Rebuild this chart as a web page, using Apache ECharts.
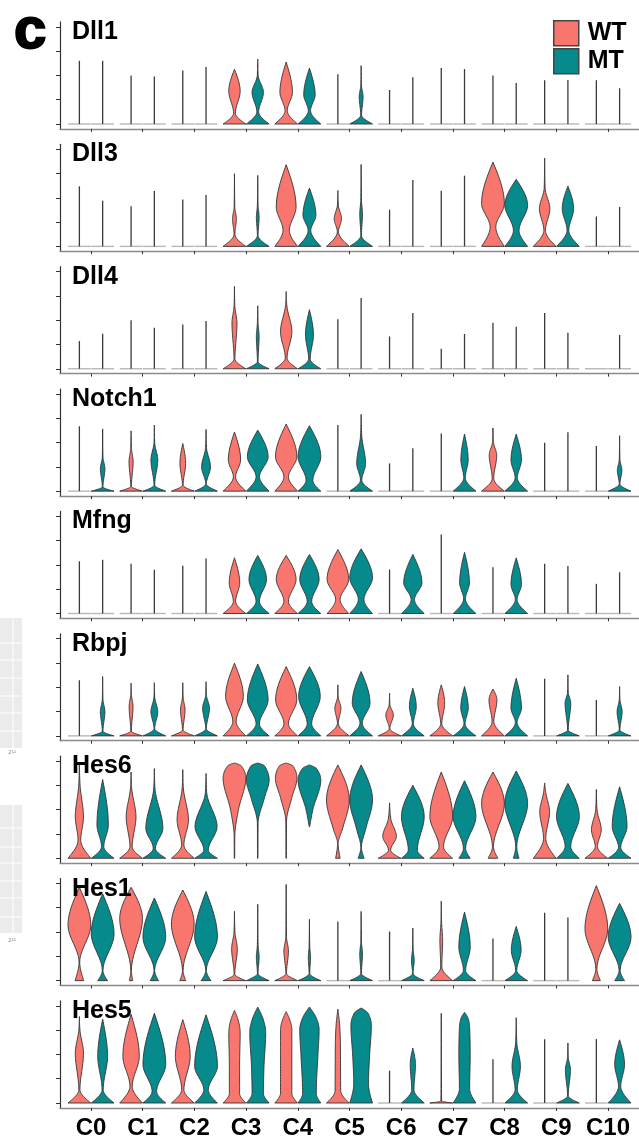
<!DOCTYPE html>
<html>
<head>
<meta charset="utf-8">
<script src="https://cdn.jsdelivr.net/npm/echarts@6.0.0/dist/echarts.min.js"></script>
<style>
  html, body { margin: 0; padding: 0; background: #ffffff; }
  #chart { width: 639px; height: 1142px; }
</style>
</head>
<body>
<div id="chart"></div>
<script>
// Stacked violin plots: expression of Notch-pathway genes per cluster, WT vs MT.

const clusters = ['C0', 'C1', 'C2', 'C3', 'C4', 'C5', 'C6', 'C7', 'C8', 'C9', 'C10'];
const genes = ['Dll1', 'Dll3', 'Dll4', 'Notch1', 'Mfng', 'Rbpj', 'Hes6', 'Hes1', 'Hes5'];
const groupNames = ['WT', 'MT'];
const groupColors = ['#F8766D', '#078A8C'];
const yTickValues = [0, 1, 2, 3, 4];
const xTickValues = [0, 1, 2, 3, 4, 5, 6, 7, 8, 9, 10];

// Each violin is either a single number (cells almost all at zero: a flat base
// with a thin whisker up to the maximum) or a flat list of [level, relWidth]
// knots from the bottom of the violin to its tip.
const dll1WT = [2.6, 2.0, 2.2,
  [0,1, 0.45,0.08, 1.35,0.5, 2.25,0],
  [0,1, 0.55,0.1, 1.3,0.55, 2.55,0],
  2.05, 1.4, 2.3, 2.0, 1.8, 1.8];
const dll1MT = [2.6, 1.95, 2.35,
  [0,1, 0.5,0.08, 1.3,0.5, 2.0,0.04, 2.67,0],
  [0,1, 0.55,0.1, 1.2,0.5, 2.3,0],
  [0,1, 0.37,0.04, 1.12,0.17, 1.6,0.03, 2.4,0],
  1.92, 2.26, 1.69, 1.81, 1.47];

const dll3WT = [2.47, 1.65, 1.93,
  [0,1, 0.5,0.04, 1.15,0.17, 1.6,0.03, 2.99,0],
  [0,1, 0.66,0.28, 1.62,0.87, 3.36,0],
  [0,1, 0.6,0.05, 1.14,0.32, 1.7,0.04, 2.3,0],
  1.51, 2.29,
  [0,1, 0.8,0.25, 1.76,1.0, 3.47,0],
  [0,1, 0.66,0.07, 1.55,0.46, 2.4,0.04, 3.63,0],
  1.23];
const dll3MT = [1.88, 2.28, 2.11,
  [0,1, 0.45,0.03, 1.2,0.12, 1.7,0.03, 2.92,0],
  [0,1, 0.66,0.12, 1.28,0.57, 2.4,0],
  [0,1, 0.45,0.03, 1.35,0.12, 1.9,0.03, 3.37,0],
  2.73, 2.91,
  [0,1, 0.66,0.25, 1.69,1.0, 2.76,0],
  [0,1, 0.66,0.08, 1.55,0.5, 2.48,0],
  1.62];

const dll4WT = [1.14, 2.0, 1.82,
  [0,1, 0.41,0.04, 1.88,0.22, 2.6,0.03, 3.39,0],
  [0,1, 0.45,0.08, 1.53,0.5, 2.6,0.06, 3.18,0],
  2.04, 1.33, 0.82, 1.89, 2.29, 0];
const dll4MT = [1.44, 1.69, 1.96,
  [0,1, 0.3,0.03, 1.33,0.12, 1.9,0.03, 2.59,0],
  [0,1, 0.4,0.07, 1.4,0.35, 2.43,0],
  2.91, 2.29, 1.43, 1.73, 1.48, 1.39];

const notch1WT = [2.67,
  [0,1, 0.2,0.03, 1.2,0.18, 1.8,0.03, 2.48,0],
  [0,1, 0.25,0.03, 1.14,0.25, 1.96,0],
  [0,1, 0.59,0.1, 1.28,0.54, 2.43,0],
  [0,1, 0.59,0.2, 1.41,0.94, 2.76,0],
  2.72, 1.14, 2.37,
  [0,1, 0.52,0.07, 1.48,0.33, 2.0,0.05, 2.6,0],
  1.99, 1.86];
const notch1MT = [
  [0,1, 0.18,0.03, 0.93,0.2, 1.4,0.03, 2.56,0],
  [0,1, 0.25,0.03, 1.28,0.3, 2.0,0.03, 2.72,0],
  [0,1, 0.3,0.03, 1.0,0.39, 1.8,0.04, 2.54,0],
  [0,1, 0.59,0.15, 1.41,0.91, 2.51,0],
  [0,1, 0.45,0.3, 1.41,1.0, 2.69,0],
  [0,1, 0.45,0.06, 1.14,0.39, 2.3,0.05, 3.16,0],
  1.76,
  [0,1, 0.55,0.07, 1.28,0.32, 2.35,0],
  [0,1, 0.55,0.1, 1.28,0.46, 2.35,0],
  2.42,
  [0,1, 0.3,0.03, 0.86,0.2, 1.3,0.03, 2.28,0]];

const mfngWT = [2.15, 2.05, 1.96,
  [0,1, 0.5,0.1, 1.26,0.46, 2.29,0],
  [0,1, 0.5,0.2, 1.4,0.87, 2.39,0],
  [0,0.95, 0.58,0.2, 1.4,0.95, 2.63,0],
  1.81, 3.25, 1.9, 2.05, 1.22];
const mfngMT = [2.21, 1.8, 2.26,
  [0,1, 0.5,0.15, 1.4,0.77, 2.39,0],
  [0,1, 0.5,0.2, 1.4,0.85, 2.43,0],
  [0,1, 0.58,0.25, 1.47,1.0, 2.66,0],
  [0,1, 0.58,0.15, 1.26,0.8, 2.43,0],
  [0,1, 0.6,0.08, 1.26,0.43, 2.52,0],
  [0,1, 0.58,0.08, 1.19,0.46, 2.29,0],
  1.95, 1.7];

const rbpjWT = [2.29,
  [0,1, 0.2,0.03, 1.2,0.17, 1.7,0.03, 2.17,0],
  [0,1, 0.25,0.03, 1.07,0.2, 1.6,0.03, 2.19,0],
  [0,1, 0.59,0.15, 1.62,0.78, 2.99,0],
  [0,1, 0.5,0.2, 1.48,0.93, 2.85,0],
  [0,1, 0.52,0.04, 1.14,0.27, 1.6,0.03, 2.1,0],
  [0,1, 0.3,0.03, 0.86,0.33, 1.3,0.03, 1.76,0],
  [0,1, 0.5,0.05, 1.35,0.3, 2.1,0],
  [0,1, 0.59,0.08, 1.48,0.35, 1.93,0],
  2.35, 1.48];
const rbpjMT = [
  [0,1, 0.2,0.03, 1.0,0.2, 1.5,0.03, 2.44,0],
  [0,1, 0.3,0.03, 1.0,0.3, 1.6,0.03, 2.19,0],
  [0,1, 0.3,0.03, 1.14,0.3, 1.7,0.03, 2.23,0],
  [0,1, 0.5,0.15, 1.48,0.91, 2.96,0],
  [0,1, 0.5,0.2, 1.62,0.95, 2.85,0],
  [0,1, 0.52,0.1, 1.35,0.78, 2.65,0],
  [0,1, 0.5,0.05, 1.2,0.3, 1.96,0],
  [0,1, 0.5,0.05, 1.14,0.33, 2.03,0],
  [0,1, 0.55,0.08, 1.14,0.46, 2.37,0],
  [0,1, 0.25,0.03, 1.35,0.25, 1.8,0.03, 2.51,0],
  [0,1, 0.25,0.03, 1.0,0.22, 1.5,0.03, 2.03,0]];

const hes6WT = [
  [0,1, 0.75,0.12, 1.7,0.36, 3.0,0.06, 3.93,0],
  [0,1, 0.48,0.1, 1.7,0.43, 2.9,0.05, 3.55,0],
  [0,1, 0.55,0.1, 1.58,0.5, 2.9,0.05, 3.65,0],
  [0,0.02, 0.9,0.03, 2.0,0.35, 3.3,1.0, 3.8,0.6, 3.92,0],
  [0,0.02, 1.5,0.03, 2.5,0.5, 3.3,0.95, 3.8,0.6, 3.92,0],
  [0,0.2, 0.6,0.03, 1.2,0.4, 2.4,1.0, 3.84,0],
  [0,1, 0.34,0.1, 0.9,0.6, 1.6,0.12, 2.28,0],
  [0,1, 0.48,0.2, 1.71,1.0, 3.55,0],
  [0,0.43, 0.48,0.05, 2.25,1.0, 3.55,0],
  [0,1, 0.82,0.1, 1.92,0.43, 2.7,0.1, 3.1,0],
  [0,1, 0.48,0.1, 1.17,0.43, 2.0,0.06, 2.83,0]];
const hes6MT = [
  [0,1, 0.48,0.1, 1.37,0.5, 3.24,0],
  [0,1, 0.41,0.1, 1.23,0.75, 2.9,0.05, 3.69,0],
  [0,1, 0.34,0.2, 1.3,0.97, 2.7,0.06, 3.49,0],
  [0,0.02, 1.43,0.03, 2.5,0.6, 3.22,1.0, 3.8,0.6, 3.92,0],
  [1.3,0.02, 2.0,0.3, 3.22,1.0, 3.7,0.6, 3.84,0],
  [0,0.27, 0.45,0.03, 1.2,0.4, 2.4,1.0, 3.84,0],
  [0,1, 0.34,0.4, 1.71,1.0, 3.0,0],
  [0,0.5, 0.41,0.1, 1.71,1.0, 3.19,0],
  [0,0.25, 0.48,0.05, 2.25,1.0, 3.59,0],
  [0,1, 0.48,0.25, 1.71,1.0, 3.08,0],
  [0,1, 0.45,0.1, 1.3,0.65, 2.94,0]];

const hes1WT = [
  [0,0.38, 0.77,0.03, 2.28,1.0, 3.84,0],
  [0,0.15, 0.42,0.03, 2.55,1.0, 3.84,0],
  [0,0.26, 0.42,0.03, 2.33,1.0, 3.73,0],
  [0,1, 0.27,0.03, 1.31,0.25, 2.0,0.04, 2.85,0],
  [0,1, 0.3,0.03, 1.23,0.2, 1.8,0.03, 3.96,0],
  2.43, 2.02,
  [0,1, 0.56,0.05, 1.66,0.12, 2.4,0.03, 3.27,0],
  1.73, 2.79,
  [0,0.35, 0.49,0.05, 2.13,1.0, 3.91,0]];
const hes1MT = [
  [0,0.43, 0.42,0.03, 1.92,1.0, 3.57,0],
  [0,0.36, 0.42,0.03, 1.79,1.0, 3.4,0],
  [0,0.43, 0.42,0.03, 1.79,1.0, 3.67,0],
  [0,1, 0.3,0.03, 0.97,0.12, 1.5,0.03, 3.14,0],
  [0,1, 0.3,0.03, 0.97,0.1, 1.4,0.03, 2.52,0],
  [0,1, 0.3,0.03, 1.1,0.12, 1.6,0.03, 2.85,0],
  [0,1, 0.3,0.03, 0.84,0.12, 1.3,0.03, 2.16,0],
  [0,1, 0.42,0.1, 1.38,0.5, 2.82,0],
  [0,1, 0.42,0.05, 1.25,0.43, 2.23,0],
  2.6,
  [0,0.43, 0.42,0.05, 1.79,1.0, 3.18,0]];

const hes5WT = [
  [0,1, 0.55,0.05, 2.05,0.36, 3.0,0.05, 3.56,0],
  [0,1, 0.69,0.1, 1.92,0.72, 3.65,0],
  [0,1, 0.55,0.1, 1.92,0.65, 3.43,0],
  [0,1, 0.4,0.45, 1.5,0.45, 2.9,0.5, 3.45,0.3, 3.81,0],
  [0,1, 0.4,0.5, 2.0,0.5, 3.0,0.5, 3.45,0.3, 3.76,0],
  [0,1, 0.5,0.25, 2.5,0.22, 3.4,0.12, 3.86,0],
  1.33,
  [0,1, 0.08,0.03, 3.69,0],
  1.8, 2.62, 2.63];
const hes5MT = [
  [0,1, 0.55,0.05, 1.92,0.43, 3.45,0],
  [0,1, 0.48,0.2, 1.58,1.0, 3.69,0],
  [0,1, 0.55,0.2, 1.51,1.0, 3.63,0],
  [0,1, 0.4,0.5, 1.5,0.55, 2.9,0.7, 3.55,0.4, 3.95,0],
  [0,1, 0.4,0.6, 2.0,0.75, 3.0,0.85, 3.6,0.5, 3.95,0],
  [0,1, 0.8,0.65, 2.0,0.75, 3.2,0.9, 3.7,0.6, 3.91,0],
  [0,1, 0.55,0.1, 1.58,0.23, 2.26,0],
  [0,1, 0.6,0.45, 2.0,0.5, 3.1,0.45, 3.5,0.3, 3.73,0],
  [0,1, 0.55,0.1, 1.51,0.37, 2.5,0.05, 3.51,0],
  [0,1, 0.3,0.03, 1.37,0.22, 1.9,0.03, 2.47,0],
  [0,1, 0.69,0.1, 1.58,0.43, 2.6,0]];

const violinsByGene = [
  [dll1WT, dll1MT], [dll3WT, dll3MT], [dll4WT, dll4MT],
  [notch1WT, notch1MT], [mfngWT, mfngMT], [rbpjWT, rbpjMT],
  [hes6WT, hes6MT], [hes1WT, hes1MT], [hes5WT, hes5MT]
];

// ---- layout ----
const FIRST_BASELINE = 124;
const PANEL_STEP = 122.375;
const PX_PER_UNIT = 24.3;
const Y_MIN = -0.2, Y_MAX = 4.2;
const X_MIN = -0.6, X_MAX = 10.6;
const PX_PER_CLUSTER = 52;
const GRID_LEFT = 60;
const DODGE = [-0.225, 0.225];
const HALF_WIDTH = 0.22;
const FONT = '"Liberation Sans", Arial, Helvetica, sans-serif';

// Monotone cubic (Fritsch–Carlson style) sampling of a knot profile.
function sampleProfile(knots) {
  const ys = [], ws = [];
  for (let i = 0; i < knots.length; i += 2) { ys.push(knots[i]); ws.push(knots[i + 1]); }
  const n = ys.length;
  const h = [], d = [];
  for (let i = 0; i < n - 1; i++) { h.push(ys[i + 1] - ys[i]); d.push((ws[i + 1] - ws[i]) / h[i]); }
  const m = new Array(n).fill(0);
  for (let i = 1; i < n - 1; i++) {
    const s0 = d[i - 1], s1 = d[i];
    const p = (s0 * h[i] + s1 * h[i - 1]) / (h[i - 1] + h[i]);
    m[i] = (Math.sign(s0) + Math.sign(s1)) * Math.min(Math.abs(s0), Math.abs(s1), 0.5 * Math.abs(p)) || 0;
  }
  if (n === 2) { m[0] = d[0]; m[1] = d[0]; }
  else {
    m[0] = (3 * d[0] - m[1]) / 2;
    m[n - 1] = (3 * d[n - 2] - m[n - 2]) / 2;
  }
  const out = [];
  const steps = 14;
  for (let i = 0; i < n - 1; i++) {
    for (let s = 0; s < steps; s++) {
      const t = s / steps, t2 = t * t, t3 = t2 * t;
      const w = (2 * t3 - 3 * t2 + 1) * ws[i] + (t3 - 2 * t2 + t) * h[i] * m[i]
              + (-2 * t3 + 3 * t2) * ws[i + 1] + (t3 - t2) * h[i] * m[i + 1];
      out.push([ys[i] + t * h[i], Math.max(0, w)]);
    }
  }
  out.push([ys[n - 1], ws[n - 1]]);
  return out;
}

function violinRenderer(shapes) {
  return function (params, api) {
    const spec = shapes[params.dataIndex];
    const xv = api.value(0);
    const base = api.coord([xv, 0]);
    const cx = base[0];
    const half = api.size([HALF_WIDTH, 0])[0];
    if (typeof spec === 'number') {
      const children = [{
        type: 'line',
        shape: { x1: cx - half, y1: base[1], x2: cx + half, y2: base[1] },
        style: { stroke: '#b8b8b8', lineWidth: 1.4 }
      }];
      if (spec > 0) {
        const tip = api.coord([xv, spec]);
        children.push({
          type: 'line',
          shape: { x1: cx, y1: base[1], x2: cx, y2: tip[1] },
          style: { stroke: '#3a3a3a', lineWidth: 1.3 }
        });
      }
      return { type: 'group', children };
    }
    const prof = sampleProfile(spec);
    const right = prof.map(([y, w]) => [cx + w * half, api.coord([xv, y])[1]]);
    const left = prof.slice().reverse().map(([y, w]) => [cx - w * half, api.coord([xv, y])[1]]);
    return {
      type: 'polygon',
      shape: { points: right.concat(left) },
      style: { fill: api.visual('color'), stroke: '#333333', lineWidth: 0.9, lineJoin: 'round' }
    };
  };
}

const grids = [], xAxes = [], yAxes = [], series = [], graphics = [];
const gridHeight = (Y_MAX - Y_MIN) * PX_PER_UNIT;
const gridWidth = (X_MAX - X_MIN) * PX_PER_CLUSTER;

genes.forEach((gene, gi) => {
  const baseline = FIRST_BASELINE + gi * PANEL_STEP;
  const isLast = gi === genes.length - 1;
  grids.push({ left: GRID_LEFT, top: baseline - Y_MAX * PX_PER_UNIT, width: gridWidth, height: gridHeight });
  xAxes.push({
    type: 'value', gridIndex: gi, min: X_MIN, max: X_MAX,
    axisLine: { show: true, onZero: false, lineStyle: { color: '#8a8a8a', width: 1.4 } },
    axisTick: { show: true, customValues: xTickValues, length: 3, lineStyle: { color: '#333', width: 1 } },
    axisLabel: isLast ? {
      show: true, customValues: xTickValues, margin: 9,
      formatter: v => clusters[Math.round(v)],
      fontFamily: FONT, fontSize: 24, fontWeight: 'bold', color: '#000'
    } : { show: false },
    splitLine: { show: false }
  });
  yAxes.push({
    type: 'value', gridIndex: gi, min: Y_MIN, max: Y_MAX,
    axisLine: { show: true, onZero: false, lineStyle: { color: '#333', width: 1.2 } },
    axisTick: { show: true, customValues: yTickValues, length: 4, lineStyle: { color: '#333', width: 1 } },
    axisLabel: { show: false },
    splitLine: { show: false }
  });
  groupNames.forEach((name, k) => {
    const shapes = violinsByGene[gi][k];
    series.push({
      type: 'custom', name, xAxisIndex: gi, yAxisIndex: gi,
      coordinateSystem: 'cartesian2d',
      itemStyle: { color: groupColors[k] },
      encode: { x: 0, y: 1 },
      renderItem: violinRenderer(shapes),
      data: shapes.map((s, ci) => [ci + DODGE[k], typeof s === 'number' ? s : s[s.length - 2]]),
      silent: true
    });
  });
  graphics.push({
    type: 'text', z: 100,
    style: {
      text: gene, x: 72, y: baseline - 92,
      font: 'bold 25px ' + FONT, fill: '#000', verticalAlign: 'middle'
    }
  });
});

// panel letter
graphics.push({
  type: 'text', z: 100,
  style: { text: 'c', x: 14, y: 32, font: 'bold 58px ' + FONT, fill: '#000',
           verticalAlign: 'middle', stroke: '#000', lineWidth: 2 }
});

// faint strips of a neighbouring figure along the left edge
function strip(y0, y1, hLines, label, labelY) {
  graphics.push({ type: 'rect', shape: { x: 0, y: y0, width: 22, height: y1 - y0 }, style: { fill: '#ebebeb' } });
  graphics.push({ type: 'line', shape: { x1: 13, y1: y0, x2: 13, y2: y1 }, style: { stroke: '#ffffff', lineWidth: 1 } });
  hLines.forEach(y => graphics.push({ type: 'line', shape: { x1: 0, y1: y, x2: 22, y2: y }, style: { stroke: '#ffffff', lineWidth: 1 } }));
  graphics.push({ type: 'text', style: { text: label, x: 12, y: labelY, font: '6px ' + FONT, fill: '#8c8c8c', align: 'center', verticalAlign: 'middle' } });
}
strip(618, 748, [643, 660, 678, 696, 713, 731], '2¹²', 752);
strip(805, 933, [828, 847, 863, 881, 898, 917], '2¹²', 940);

const chart = echarts.init(document.getElementById('chart'), null, { renderer: 'canvas' });
chart.setOption({
  animation: false,
  backgroundColor: '#ffffff',
  grid: grids,
  xAxis: xAxes,
  yAxis: yAxes,
  series,
  legend: {
    data: groupNames, orient: 'vertical', left: 553, top: 20,
    itemWidth: 25, itemHeight: 25, itemGap: 1.5, icon: 'rect', padding: 0,
    itemStyle: { borderColor: '#444', borderWidth: 1.5 },
    textStyle: { fontFamily: FONT, fontSize: 25, fontWeight: 'bold', color: '#000', lineHeight: 25, padding: [0, 0, 0, 4] },
    selectedMode: false
  },
  graphic: graphics
});
</script>
</body>
</html>
